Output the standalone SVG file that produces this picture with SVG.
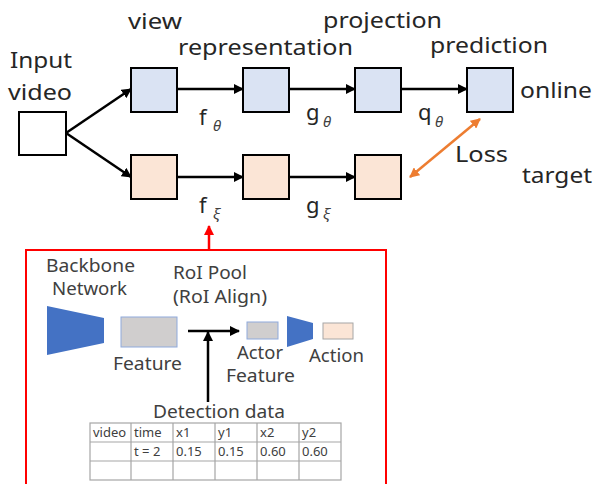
<svg xmlns="http://www.w3.org/2000/svg" width="594" height="484" viewBox="0 0 594 484">
<style>
.t{font-family:"Noto Sans","Open Sans",sans-serif;fill:#262626}
.lg{font-size:22px}
.md{font-size:17.5px;fill:#404040}
.sm{font-size:13px;fill:#404040}
.sub{font-family:"Noto Sans",sans-serif;font-style:italic;font-size:15px;fill:#404040}
.on{fill:#DAE3F3;stroke:#000;stroke-width:2}
.tg{fill:#FBE5D6;stroke:#000;stroke-width:2}
.ar{stroke:#000;stroke-width:2.5;fill:none;marker-end:url(#ah)}
.grid{stroke:#A6A6A6;stroke-width:1.2;fill:none}
</style>
<defs>
<marker id="ah" viewBox="0 0 10 10" refX="9" refY="5" markerWidth="4" markerHeight="4" orient="auto"><path d="M0,0L10,5L0,10z" fill="#000"/></marker>
<marker id="oh" viewBox="0 0 10 10" refX="9" refY="5" markerWidth="4" markerHeight="4" orient="auto-start-reverse"><path d="M0,0L10,5L0,10z" fill="#ED7D31"/></marker>
<marker id="rh" viewBox="0 0 10 10" refX="9" refY="5" markerWidth="4" markerHeight="4" orient="auto"><path d="M0,0L10,5L0,10z" fill="#FF0000"/></marker>
</defs>
<g id="input"><rect x="19" y="112" width="47" height="43" fill="#fff" stroke="#000" stroke-width="2"/>
<text class="t lg" x="10" y="68" textLength="62" lengthAdjust="spacingAndGlyphs">Input</text><text class="t lg" x="8" y="100" textLength="64" lengthAdjust="spacingAndGlyphs">video</text></g>
<g id="on1"><rect class="on" x="131" y="68" width="46" height="44"/><text class="t lg" x="128" y="29" textLength="54" lengthAdjust="spacingAndGlyphs">view</text></g>
<g id="on2"><rect class="on" x="243" y="68" width="46" height="44"/><text class="t lg" x="178" y="55" textLength="175" lengthAdjust="spacingAndGlyphs">representation</text></g>
<g id="on3"><rect class="on" x="355" y="68" width="46" height="44"/><text class="t lg" x="323" y="28" textLength="119" lengthAdjust="spacingAndGlyphs">projection</text></g>
<g id="on4"><rect class="on" x="467" y="68" width="46" height="44"/><text class="t lg" x="430" y="53" textLength="118" lengthAdjust="spacingAndGlyphs">prediction</text><text class="t lg" x="520" y="98" textLength="72" lengthAdjust="spacingAndGlyphs">online</text></g>
<g id="tg1"><rect class="tg" x="131" y="155" width="46" height="44"/></g>
<g id="tg2"><rect class="tg" x="243" y="155" width="46" height="44"/></g>
<g id="tg3"><rect class="tg" x="355" y="155" width="46" height="44"/><text class="t lg" x="522" y="183" textLength="70" lengthAdjust="spacingAndGlyphs">target</text></g>
<g id="labels">
<text class="t lg" x="199" y="125">f</text><text class="sub" x="213" y="131">θ</text>
<text class="t lg" x="306" y="120">g</text><text class="sub" x="323" y="127">θ</text>
<text class="t lg" x="418" y="120">q</text><text class="sub" x="435" y="127">θ</text>
<text class="t lg" x="199" y="213">f</text><text class="sub" x="213" y="219">ξ</text>
<text class="t lg" x="306" y="213">g</text><text class="sub" x="323" y="219">ξ</text>
<text class="t lg" x="455" y="162" textLength="53" lengthAdjust="spacingAndGlyphs">Loss</text>
</g>
<g id="connectors">
<line class="ar" x1="66" y1="133" x2="131" y2="89"/>
<line class="ar" x1="66" y1="133" x2="131" y2="177"/>
<line class="ar" x1="177" y1="89" x2="243" y2="89"/>
<line class="ar" x1="289" y1="89" x2="355" y2="89"/>
<line class="ar" x1="401" y1="89" x2="467" y2="89"/>
<line class="ar" x1="177" y1="177" x2="243" y2="177"/>
<line class="ar" x1="289" y1="177" x2="355" y2="177"/>
<line x1="480" y1="119" x2="410" y2="177" stroke="#ED7D31" stroke-width="2.5" marker-start="url(#oh)" marker-end="url(#oh)"/>
<line x1="209" y1="250" x2="209" y2="226" stroke="#FF0000" stroke-width="2.5" marker-end="url(#rh)"/>
<line class="ar" x1="188" y1="331" x2="239" y2="331"/>
<line class="ar" x1="208" y1="402" x2="208" y2="332"/>
</g>
<g id="panel">
<rect x="26" y="250" width="360" height="250" fill="none" stroke="#FF0000" stroke-width="2"/>
<text class="t md" x="46" y="272" textLength="89" lengthAdjust="spacingAndGlyphs">Backbone</text><text class="t md" x="52" y="295" textLength="75" lengthAdjust="spacingAndGlyphs">Network</text>
<polygon points="47,306 104,318 104,343 47,355" fill="#4472C4"/>
<rect x="121" y="317" width="56" height="30" fill="#D0CECE" stroke="#8FAADC" stroke-width="1"/>
<text class="t md" x="113" y="370" textLength="69" lengthAdjust="spacingAndGlyphs">Feature</text>
<text class="t md" x="173" y="279" textLength="74" lengthAdjust="spacingAndGlyphs">RoI Pool</text><text class="t md" x="173" y="303" textLength="94" lengthAdjust="spacingAndGlyphs">(RoI Align)</text>
<rect x="247" y="322" width="31" height="17" fill="#D0CECE" stroke="#8FAADC" stroke-width="1"/>
<text class="t md" x="237" y="359" textLength="46" lengthAdjust="spacingAndGlyphs">Actor</text><text class="t md" x="226" y="382" textLength="69" lengthAdjust="spacingAndGlyphs">Feature</text>
<polygon points="287,316 313,323 313,339 287,347" fill="#4472C4"/>
<rect x="323" y="323" width="30" height="16" fill="#FBE5D6" stroke="#A6A6A6" stroke-width="1"/>
<text class="t md" x="309" y="362" textLength="55" lengthAdjust="spacingAndGlyphs">Action</text>
<text class="t md" x="153" y="418" textLength="132" lengthAdjust="spacingAndGlyphs">Detection data</text>
</g>
<g id="table">
<rect class="grid" x="90" y="423" width="251" height="57"/>
<path class="grid" d="M90,442H341M90,461H341M131,423V480M173,423V480M215,423V480M257,423V480M299,423V480"/>
<text class="t sm" x="93" y="437">video</text><text class="t sm" x="134" y="437">time</text>
<text class="t sm" x="176" y="437">x1</text><text class="t sm" x="218" y="437">y1</text>
<text class="t sm" x="260" y="437">x2</text><text class="t sm" x="302" y="437">y2</text>
<text class="t sm" x="134" y="456" xml:space="preserve">t = 2</text><text class="t sm" x="176" y="456">0.15</text>
<text class="t sm" x="218" y="456">0.15</text><text class="t sm" x="260" y="456">0.60</text>
<text class="t sm" x="302" y="456">0.60</text>
</g>
</svg>
